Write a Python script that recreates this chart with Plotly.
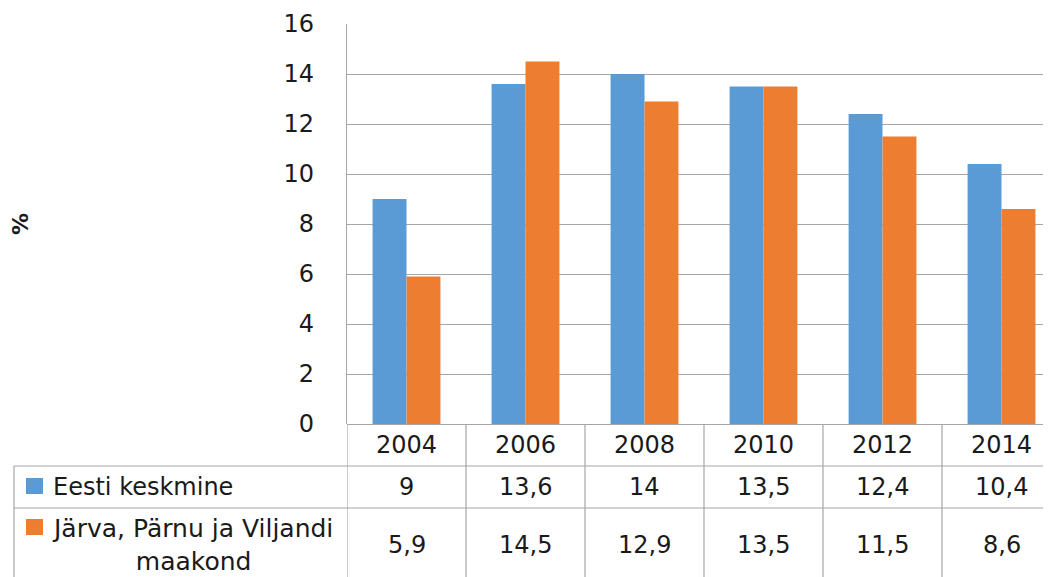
import plotly.graph_objects as go

years = ["2004", "2006", "2008", "2010", "2012", "2014"]
eesti = [9, 13.6, 14, 13.5, 12.4, 10.4]
jarva = [5.9, 14.5, 12.9, 13.5, 11.5, 8.6]
series_names = ["Eesti keskmine", "Järva, Pärnu ja Viljandi<br>maakond"]
colors = ["#5B9BD5", "#ED7D31"]
y_ticks = [0, 2, 4, 6, 8, 10, 12, 14, 16]

OFF = 8                      # page body margin
W, H = 1051 - OFF, 577 - OFF
L, T, B = 347 - OFF, 24 - OFF, 424 - OFF   # plot area pixels (figure coords)
PW, PH = W - L, B - T
COLW = 119
FONT = "DejaVu Sans"
FS = 24
GRID = "#A6A6A6"
TXT = "#1a1a1a"


def py(ypx):  # ypx given in window pixels
    return (B - (ypx - OFF)) / PH


def px(xpx):
    return ((xpx - OFF) - L) / PW


def fmt(v):
    return f"{v:g}".replace(".", ",")


fig = go.Figure()
for name, vals, c in zip(["Eesti keskmine", "Järva, Pärnu ja Viljandi maakond"], [eesti, jarva], colors):
    fig.add_trace(go.Bar(x=years, y=vals, name=name, marker=dict(color=c, line=dict(width=0))))

fig.update_layout(
    width=W, height=H,
    margin=dict(l=L, r=0, t=T, b=H - B, pad=0),
    paper_bgcolor="white", plot_bgcolor="white",
    barmode="group", bargap=0.43, bargroupgap=0,
    showlegend=False,
    font=dict(family=FONT, size=FS, color=TXT),
)
fig.update_xaxes(type="category", range=[-0.5, -0.5 + PW / COLW], showticklabels=False,
                 showgrid=False, zeroline=False, showline=False, ticks="")
fig.update_yaxes(range=[0, 16], tickvals=y_ticks, showgrid=True, gridcolor=GRID, gridwidth=1.2,
                 zeroline=True, zerolinecolor=GRID, zerolinewidth=1.2,
                 showline=True, linecolor=GRID, linewidth=1.2, ticks="", ticklabelstandoff=27,
                 tickfont=dict(family=FONT, size=FS, color=TXT))

line = dict(color=GRID, width=1.2)
shapes = []
for i in range(len(years)):
    shapes.append(dict(type="line", xref="x", yref="paper", x0=i - 0.5, x1=i - 0.5,
                       y0=py(424), y1=py(600), line=line))
for ypx in (466, 508):
    shapes.append(dict(type="line", xref="paper", yref="paper", x0=px(14), x1=1.01,
                       y0=py(ypx), y1=py(ypx), line=line))
shapes.append(dict(type="line", xref="paper", yref="paper", x0=px(14), x1=px(14),
                   y0=py(466), y1=py(600), line=line))
for c, (y0, y1) in zip(colors, [(478, 494), (519, 535)]):
    shapes.append(dict(type="rect", xref="paper", yref="paper", x0=px(26), x1=px(43),
                       y0=py(y1), y1=py(y0), fillcolor=c, line=dict(width=0)))
fig.update_layout(shapes=shapes)

ann = []
ann.append(dict(text="<b>%</b>", xref="paper", yref="paper", x=px(20), y=0.5, showarrow=False,
                xanchor="center", yanchor="middle",
                textangle=-90, font=dict(family=FONT, size=22, color=TXT)))
for i, yr in enumerate(years):
    ann.append(dict(text=yr, xref="x", yref="paper", x=i, y=py(445), showarrow=False,
                    xanchor="center", yanchor="middle"))
for vals, ypx in zip([eesti, jarva], [487, 545]):
    for i, v in enumerate(vals):
        ann.append(dict(text=fmt(v), xref="x", yref="paper", x=i, y=py(ypx), showarrow=False,
                        xanchor="center", yanchor="middle"))
ann.append(dict(text=series_names[0], xref="paper", yref="paper", x=px(51), y=py(487),
                showarrow=False, xanchor="left", yanchor="middle"))
ann.append(dict(text=series_names[1], xref="paper", yref="paper", x=px(192), y=py(545),
                showarrow=False, xanchor="center", yanchor="middle", align="center",
                font=dict(family=FONT, size=25, color=TXT)))
fig.update_layout(annotations=ann)

fig.write_html("out.html")
